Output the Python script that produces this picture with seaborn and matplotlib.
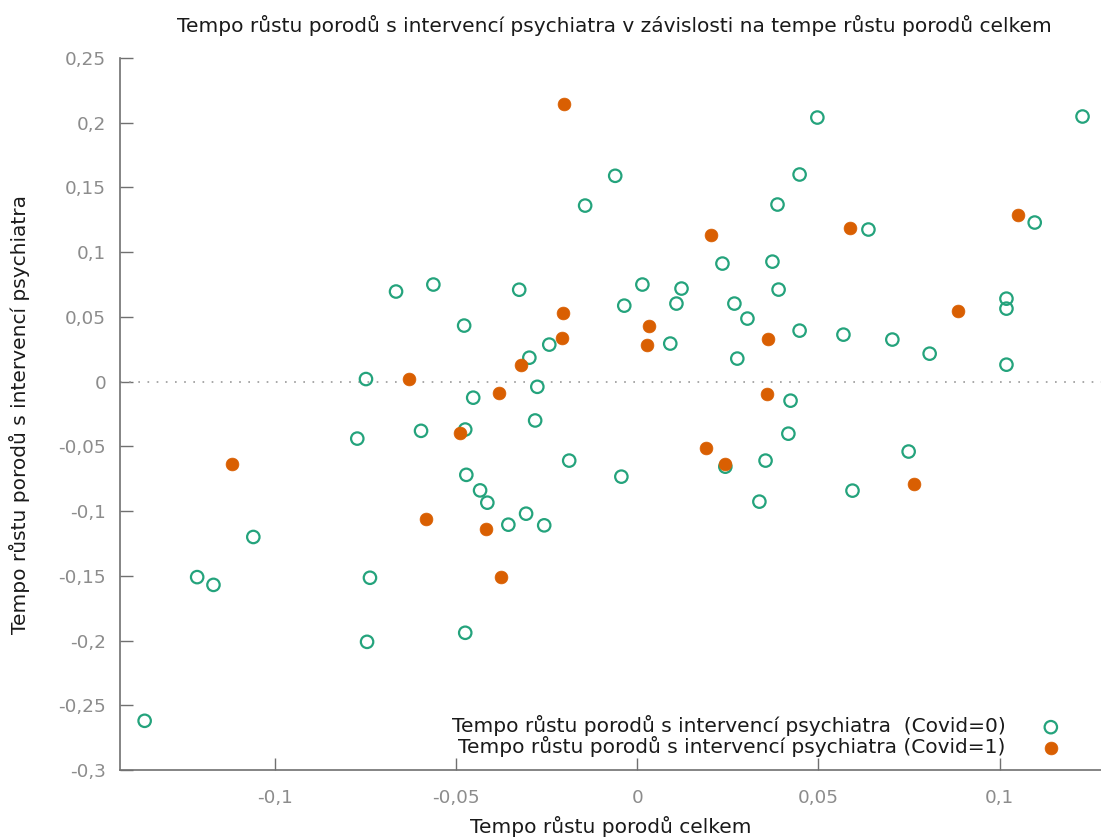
import matplotlib
matplotlib.use("Agg")
import matplotlib.pyplot as plt
import seaborn as sns
import pandas as pd

# Covid = 0 (open green circles)
x0 = [-0.136, -0.1215, -0.117, -0.106, -0.0773, -0.0749, -0.0738, -0.0746, -0.0666, -0.0597,
      -0.0563, -0.0475, -0.0472, -0.0453, -0.0475, -0.0434, -0.0414, -0.0478, -0.0326, -0.0298,
      -0.0276, -0.0282, -0.0356, -0.0307, -0.0257, -0.0243, -0.0188, -0.0144, -0.0061, -0.0036,
      -0.0044, 0.0014, 0.0091, 0.0108, 0.0122, 0.0235, 0.0243, 0.0268, 0.0276, 0.0304,
      0.0337, 0.0354, 0.0373, 0.0387, 0.0390, 0.0417, 0.0423, 0.0448, 0.0448, 0.0497,
      0.0569, 0.0594, 0.0638, 0.0704, 0.0749, 0.0807, 0.1019, 0.1019, 0.1019, 0.1097, 0.1229]
y0 = [-0.262, -0.151, -0.157, -0.120, -0.044, 0.002, -0.1515, -0.201, 0.0696, -0.038,
      0.075, -0.037, -0.072, -0.0124, -0.194, -0.084, -0.0935, 0.0433, 0.071, 0.0185,
      -0.004, -0.030, -0.1105, -0.102, -0.111, 0.0286, -0.061, 0.136, 0.159, 0.0587,
      -0.0734, 0.075, 0.0294, 0.0603, 0.0719, 0.0912, -0.0657, 0.0603, 0.0178, 0.0487,
      -0.0927, -0.061, 0.0927, 0.1368, 0.0711, -0.0402, -0.0147, 0.0394, 0.160, 0.204,
      0.0363, -0.0842, 0.1175, 0.0325, -0.054, 0.0216, 0.0641, 0.0564, 0.0131, 0.1229, 0.2048]

# Covid = 1 (filled orange circles)
x1 = [-0.1119, -0.063, -0.0583, -0.0489, -0.0417, -0.0381, -0.0376, -0.0320, -0.0207, -0.0204,
      -0.0202, 0.0028, 0.0033, 0.0191, 0.0204, 0.0243, 0.0359, 0.0362, 0.0588, 0.0765,
      0.0884, 0.1052]
y1 = [-0.0634, 0.0023, -0.106, -0.040, -0.114, -0.0085, -0.1507, 0.0131, 0.034, 0.0533,
      0.2141, 0.0286, 0.0433, -0.051, 0.1136, -0.0634, -0.0093, 0.0332, 0.119, -0.0788,
      0.0549, 0.129]

labels = ["Tempo růstu porodů s intervencí psychiatra  (Covid=0)",
          "Tempo růstu porodů s intervencí psychiatra (Covid=1)"]
title = "Tempo růstu porodů s intervencí psychiatra v závislosti na tempe růstu porodů celkem"
xlabel = "Tempo růstu porodů celkem"
ylabel = "Tempo růstu porodů s intervencí psychiatra"

xticks = [-0.1, -0.05, 0, 0.05, 0.1]
xticklabels = ["-0,1", "-0,05", "0", "0,05", "0,1"]
yticks = [-0.3, -0.25, -0.2, -0.15, -0.1, -0.05, 0, 0.05, 0.1, 0.15, 0.2, 0.25]
yticklabels = ["-0,3", "-0,25", "-0,2", "-0,15", "-0,1", "-0,05", "0", "0,05", "0,1", "0,15", "0,2", "0,25"]

df0 = pd.DataFrame({"x": x0, "y": y0})
df1 = pd.DataFrame({"x": x1, "y": y1})

sns.set_theme(style="white")
plt.rcParams["font.family"] = ["DejaVu Sans"]

green = "#24a37c"
orange = "#d95f02"
text_c = "#1a1a1a"

fig = plt.figure(figsize=(11.01, 8.38), dpi=100)
ax = fig.add_axes([120/1101, 68/838, (1101-120)/1101, (770-58)/838])

ax.axhline(0, color="#999999", linestyle=(0, (1, 4.5)), linewidth=1.2, zorder=1)

sns.scatterplot(data=df0, x="x", y="y", ax=ax, marker="o", s=80,
                facecolor="none", edgecolor=green, linewidth=1.6, label=labels[0], zorder=3)
sns.scatterplot(data=df1, x="x", y="y", ax=ax, marker="o", s=85,
                color=orange, edgecolor=orange, linewidth=0.5, label=labels[1], zorder=3)

ax.set_xlim(-0.1428, 0.128)
ax.set_ylim(-0.3, 0.25)
ax.set_xticks(xticks)
ax.set_xticklabels(xticklabels)
ax.set_yticks(yticks)
ax.set_yticklabels(yticklabels)

for s in ["top", "right"]:
    ax.spines[s].set_visible(False)
for s in ["left", "bottom"]:
    ax.spines[s].set_color("#707070")
    ax.spines[s].set_linewidth(1.2)

ax.tick_params(axis="both", direction="in", length=9, width=1, color="#707070",
               labelcolor="#8c8c8c", labelsize=13.3, left=True, bottom=True)
ax.tick_params(axis="x", pad=14)
ax.tick_params(axis="y", pad=10)

ax.set_xlabel(xlabel, fontsize=14.5, color=text_c)
ax.set_ylabel(ylabel, fontsize=14.5, color=text_c)
ax.xaxis.set_label_coords(0.5, -0.064)
ax.yaxis.set_label_coords(-0.092, 0.5)
fig.text(614/1101, 1 - 25/838, title, ha="center", va="center", fontsize=14.5, color=text_c)

leg = ax.legend(loc="lower right", bbox_to_anchor=(0.9776, 0.0063), frameon=False,
                markerfirst=False, fontsize=14.5, handletextpad=1.25,
                borderaxespad=0.0, labelspacing=0.0)
for t in leg.get_texts():
    t.set_color(text_c)

fig.savefig("out.png", dpi=100)
